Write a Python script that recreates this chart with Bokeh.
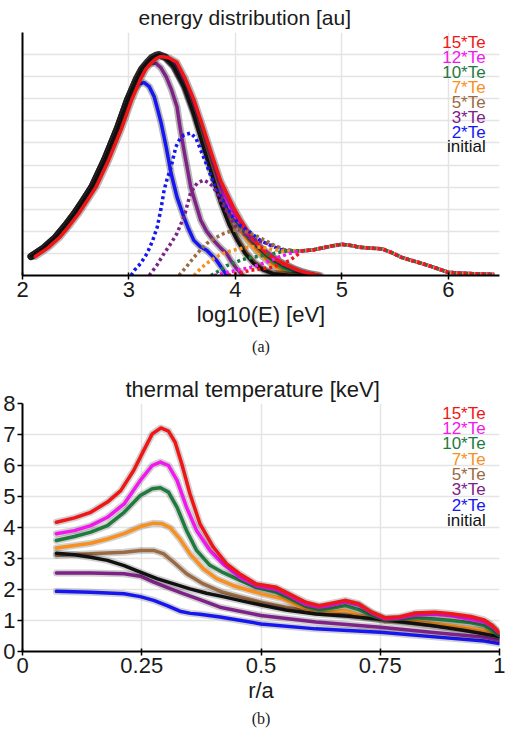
from bokeh.plotting import figure
from bokeh.layouts import column
from bokeh.models import Label, FixedTicker, Range1d, LinearAxis
from bokeh.embed import file_html
from bokeh.resources import INLINE

SANS = "Liberation Sans"
SERIF = "Liberation Serif"

SERIES = ["15*Te", "12*Te", "10*Te", "7*Te", "5*Te", "3*Te", "2*Te", "initial"]
COLORS = ["#f01616", "#f416ee", "#1f7a3e", "#f7901e", "#9a6a42", "#7e2288", "#1616f2", "#111111"]

# ---------------- panel (a): energy distribution ----------------
E_TICKS = [2, 3, 4, 5, 6]
RISE_X = [2.08, 2.2, 2.31, 2.4, 2.49, 2.57, 2.65, 2.77, 2.89, 2.99, 3.07, 3.12, 3.17, 3.21, 3.25, 3.28]
RISE_Y = [0.086, 0.125, 0.173, 0.225, 0.282, 0.34, 0.40, 0.523, 0.665, 0.80, 0.89, 0.935, 0.965, 0.985, 0.996, 1.0]

init_x = RISE_X + [3.34, 3.42, 3.52, 3.61, 3.67, 3.77, 3.86, 3.94, 4.01, 4.09, 4.17, 4.26, 4.35, 4.5, 4.72]
init_y = RISE_Y + [0.985, 0.945, 0.85, 0.727, 0.627, 0.47, 0.33, 0.23, 0.165, 0.10, 0.055, 0.025, 0.008, 0.001, 0.0]

te15_x = [2.12, 2.24, 2.35, 2.44, 2.53, 2.61, 2.69, 2.81, 2.93, 3.03, 3.11, 3.16, 3.21, 3.25, 3.29, 3.32, 3.38,
          3.45, 3.53, 3.61, 3.69, 3.77, 3.86, 3.92, 3.98, 4.05, 4.14, 4.22, 4.29, 4.37, 4.45, 4.53, 4.6, 4.68, 4.8]
te15_y = [0.086, 0.125, 0.173, 0.225, 0.282, 0.34, 0.40, 0.523, 0.665, 0.80, 0.89, 0.935, 0.962, 0.98, 0.99, 0.99,
          0.985, 0.965, 0.89, 0.795, 0.68, 0.56, 0.43, 0.37, 0.31, 0.25, 0.18, 0.135, 0.10, 0.075, 0.055, 0.037,
          0.022, 0.01, 0.0]

te12_x = RISE_X + [3.34, 3.42, 3.52, 3.61, 3.69, 3.77, 3.86, 3.98, 4.07, 4.14, 4.23, 4.31, 4.38, 4.46, 4.54, 4.62, 4.7, 4.78]
te12_y = RISE_Y + [0.99, 0.955, 0.87, 0.76, 0.64, 0.52, 0.39, 0.28, 0.22, 0.17, 0.13, 0.10, 0.075, 0.05, 0.032, 0.018, 0.007, 0.0]

te10_x = RISE_X + [3.34, 3.42, 3.52, 3.61, 3.69, 3.77, 3.86, 3.98, 4.06, 4.14, 4.22, 4.29, 4.37, 4.45, 4.54, 4.63, 4.72]
te10_y = RISE_Y + [0.99, 0.95, 0.865, 0.75, 0.63, 0.5, 0.37, 0.27, 0.21, 0.165, 0.125, 0.09, 0.06, 0.035, 0.018, 0.007, 0.0]

te7_x = RISE_X + [3.34, 3.42, 3.52, 3.61, 3.69, 3.77, 3.82, 3.88, 3.95, 4.05, 4.13, 4.2, 4.27, 4.33, 4.4, 4.47, 4.6]
te7_y = RISE_Y + [0.99, 0.95, 0.86, 0.745, 0.62, 0.5, 0.43, 0.35, 0.28, 0.2, 0.15, 0.11, 0.08, 0.055, 0.03, 0.012, 0.0]

te5_x = RISE_X + [3.34, 3.42, 3.52, 3.61, 3.68, 3.78, 3.87, 3.95, 4.02, 4.1, 4.18, 4.27, 4.36, 4.5, 4.7]
te5_y = RISE_Y + [0.985, 0.945, 0.855, 0.735, 0.635, 0.48, 0.34, 0.24, 0.17, 0.105, 0.06, 0.028, 0.01, 0.002, 0.0]

te3_x = RISE_X[:12] + [3.17, 3.21, 3.256, 3.30, 3.349, 3.40, 3.451, 3.48, 3.516, 3.55, 3.58, 3.63, 3.674, 3.73,
                       3.795, 3.86, 3.916, 3.96, 4.01, 4.07]
te3_y = RISE_Y[:12] + [0.955, 0.962, 0.96, 0.94, 0.9, 0.84, 0.764, 0.67, 0.568, 0.48, 0.4, 0.32, 0.25, 0.2,
                       0.159, 0.125, 0.1, 0.065, 0.032, 0.0]

te2_x = RISE_X[:10] + [3.05, 3.1, 3.144, 3.19, 3.237, 3.27, 3.302, 3.349, 3.395, 3.451, 3.516, 3.56, 3.609, 3.67,
                       3.73, 3.78, 3.823, 3.87, 3.907, 3.93]
te2_y = RISE_Y[:10] + [0.845, 0.868, 0.873, 0.855, 0.809, 0.75, 0.691, 0.582, 0.464, 0.355, 0.264, 0.21, 0.159, 0.13,
                       0.114, 0.09, 0.068, 0.035, 0.009, 0.0]

# dotted (fast-electron) parts, all ending in a common high energy tail
TAIL_X = [4.63, 4.72, 4.79, 4.9, 5.0, 5.1, 5.16, 5.25, 5.38, 5.47, 5.56, 5.64, 5.72, 5.8, 5.87, 5.94, 6.0, 6.1, 6.19, 6.3, 6.43]
TAIL_Y = [0.112, 0.115, 0.122, 0.133, 0.141, 0.135, 0.128, 0.125, 0.12, 0.103, 0.082, 0.07, 0.059, 0.047, 0.036,
          0.024, 0.014, 0.011, 0.009, 0.007, 0.005]

d2_x = [3.02, 3.05, 3.11, 3.17, 3.22, 3.265, 3.30, 3.33, 3.36, 3.395, 3.44, 3.48, 3.516, 3.58, 3.63, 3.674, 3.73,
        3.795, 3.86, 3.916, 3.98, 4.05, 4.14, 4.23, 4.29, 4.37, 4.45, 4.54]
d2_y = [0.0, 0.023, 0.055, 0.1, 0.155, 0.218, 0.3, 0.386, 0.44, 0.49, 0.582, 0.62, 0.636, 0.645, 0.62, 0.568, 0.5,
        0.418, 0.36, 0.309, 0.26, 0.225, 0.195, 0.16, 0.145, 0.128, 0.114, 0.11]
d3_x = [3.19, 3.26, 3.33, 3.40, 3.45, 3.52, 3.58, 3.64, 3.70, 3.75, 3.795, 3.86, 3.93, 4.01, 4.09, 4.17, 4.25, 4.33, 4.45, 4.54]
d3_y = [0.0, 0.045, 0.1, 0.15, 0.19, 0.27, 0.377, 0.418, 0.432, 0.42, 0.4, 0.34, 0.28, 0.218, 0.185, 0.165, 0.152,
        0.14, 0.118, 0.112]
d5_x = [3.47, 3.54, 3.61, 3.67, 3.73, 3.81, 3.89, 3.98, 4.05, 4.12, 4.2, 4.28, 4.36, 4.45, 4.54]
d5_y = [0.0, 0.04, 0.082, 0.115, 0.145, 0.17, 0.19, 0.205, 0.205, 0.195, 0.178, 0.159, 0.138, 0.118, 0.112]
d7_x = [3.61, 3.67, 3.73, 3.8, 3.86, 3.93, 4.01, 4.09, 4.17, 4.26, 4.35, 4.45, 4.54]
d7_y = [0.0, 0.03, 0.055, 0.078, 0.095, 0.108, 0.118, 0.126, 0.13, 0.127, 0.118, 0.11, 0.112]
d10_x = [3.77, 3.85, 3.92, 4.0, 4.07, 4.17, 4.26, 4.36, 4.45, 4.54]
d10_y = [0.0, 0.022, 0.045, 0.06, 0.073, 0.083, 0.091, 0.1, 0.109, 0.112]
d12_x = [3.8, 3.86, 3.92, 4.03, 4.14, 4.23, 4.33, 4.43, 4.54]
d12_y = [0.0, 0.006, 0.014, 0.025, 0.036, 0.05, 0.068, 0.088, 0.105]
d15_x = [3.93, 4.03, 4.14, 4.24, 4.33, 4.42, 4.51, 4.57]
d15_y = [0.0, 0.01, 0.023, 0.03, 0.036, 0.05, 0.068, 0.09]

# ---------------- panel (b): thermal temperature ----------------
R_TICKS = [0, 0.25, 0.5, 0.75, 1]
R_LABELS = ["0", "0.25", "0.5", "0.75", "1"]
T_TICKS = [0, 1, 2, 3, 4, 5, 6, 7, 8]

r15 = [0.071, 0.109, 0.143, 0.178, 0.206, 0.233, 0.254, 0.272, 0.29, 0.306, 0.32, 0.334, 0.351, 0.372, 0.4, 0.428,
       0.455, 0.49, 0.532, 0.559, 0.594, 0.622, 0.649, 0.677, 0.705, 0.732, 0.76, 0.788, 0.823, 0.864, 0.899, 0.94,
       0.968, 0.985, 0.999]
t15 = [4.17, 4.31, 4.49, 4.82, 5.19, 5.84, 6.48, 7.02, 7.21, 7.11, 6.75, 6.05, 5.09, 4.12, 3.37, 2.83, 2.51, 2.18,
       2.07, 1.86, 1.59, 1.48, 1.56, 1.65, 1.54, 1.27, 1.09, 1.11, 1.24, 1.27, 1.22, 1.13, 1.02, 0.84, 0.62]
r12 = [0.071, 0.109, 0.143, 0.178, 0.213, 0.247, 0.272, 0.289, 0.306, 0.324, 0.344, 0.365, 0.393, 0.42, 0.455, 0.49,
       0.532, 0.559, 0.594, 0.622, 0.649, 0.677, 0.705, 0.732, 0.76, 0.788, 0.823, 0.864, 0.899, 0.94, 0.968, 0.985, 0.999]
t12 = [3.8, 3.9, 4.06, 4.33, 4.76, 5.52, 6.0, 6.11, 6.0, 5.52, 4.65, 3.9, 3.26, 2.83, 2.4, 2.12, 2.0, 1.8, 1.52,
       1.43, 1.5, 1.6, 1.5, 1.24, 1.05, 1.07, 1.18, 1.2, 1.15, 1.03, 0.95, 0.8, 0.6]
r10 = [0.071, 0.109, 0.143, 0.178, 0.213, 0.247, 0.272, 0.289, 0.306, 0.324, 0.344, 0.365, 0.393, 0.42, 0.455, 0.49,
       0.532, 0.559, 0.594, 0.622, 0.649, 0.677, 0.705, 0.732, 0.76, 0.788, 0.823, 0.864, 0.899, 0.94, 0.968, 0.999]
t10 = [3.58, 3.71, 3.85, 4.06, 4.49, 5.03, 5.25, 5.28, 5.14, 4.65, 3.9, 3.26, 2.78, 2.55, 2.3, 2.07, 1.91, 1.72,
       1.45, 1.34, 1.4, 1.48, 1.35, 1.16, 1.02, 1.04, 1.09, 1.05, 1.0, 0.93, 0.84, 0.52]
r7 = [0.071, 0.109, 0.143, 0.178, 0.213, 0.247, 0.275, 0.293, 0.31, 0.33, 0.351, 0.379, 0.407, 0.441, 0.5, 0.545,
      0.594, 0.636, 0.677, 0.719, 0.76, 0.823, 0.899, 0.968, 0.999]
t7 = [3.34, 3.42, 3.49, 3.63, 3.8, 4.03, 4.14, 4.12, 3.99, 3.63, 3.15, 2.67, 2.35, 2.13, 1.86, 1.7, 1.37, 1.27, 1.32,
      1.11, 1.0, 0.98, 0.84, 0.68, 0.52]
r5 = [0.071, 0.143, 0.213, 0.247, 0.275, 0.296, 0.317, 0.344, 0.379, 0.42, 0.455, 0.5, 0.552, 0.615, 0.684, 0.76,
      0.857, 0.968, 0.999]
t5 = [3.1, 3.15, 3.2, 3.26, 3.26, 3.15, 2.88, 2.51, 2.18, 1.91, 1.77, 1.59, 1.43, 1.27, 1.16, 1.0, 0.84, 0.66, 0.48]
r3 = [0.071, 0.143, 0.213, 0.247, 0.275, 0.303, 0.33, 0.372, 0.414, 0.5, 0.615, 0.75, 0.857, 0.968, 0.999]
t3 = [2.53, 2.53, 2.51, 2.43, 2.24, 2.07, 1.91, 1.67, 1.43, 1.16, 0.95, 0.78, 0.62, 0.46, 0.36]
r2 = [0.071, 0.143, 0.213, 0.247, 0.275, 0.303, 0.33, 0.352, 0.372, 0.414, 0.5, 0.615, 0.75, 0.857, 0.968, 0.999]
t2 = [1.94, 1.91, 1.86, 1.77, 1.65, 1.48, 1.3, 1.23, 1.2, 1.11, 0.89, 0.73, 0.62, 0.48, 0.34, 0.26]
r0 = [0.071, 0.109, 0.143, 0.178, 0.213, 0.247, 0.282, 0.317, 0.351, 0.386, 0.42, 0.455, 0.5, 0.552, 0.615, 0.684,
      0.76, 0.857, 0.927, 0.999]
t0 = [3.17, 3.12, 3.04, 2.94, 2.77, 2.56, 2.35, 2.18, 2.02, 1.88, 1.77, 1.65, 1.5, 1.34, 1.21, 1.14, 1.02, 0.84,
      0.68, 0.48]

GRID = "#e4e4e4"
TXT = "#1a1a1a"


def style(p, xt, yt, xlabel, title_size, title_standoff):
    p.outline_line_color = None
    p.background_fill_color = "white"
    p.border_fill_color = "white"
    p.title.text_font = SANS
    p.title.text_font_size = title_size
    p.title.text_font_style = "normal"
    p.title.text_color = TXT
    p.title.align = "left"
    p.title.standoff = title_standoff
    for ax in (p.xaxis[0], p.yaxis[0]):
        ax.axis_line_width = 2
        ax.axis_line_color = "black"
        ax.major_tick_line_width = 1.5
        ax.major_tick_line_color = "black"
        ax.minor_tick_line_color = None
        ax.major_label_text_font = SANS
        ax.major_label_text_font_size = "22px"
        ax.major_label_text_color = TXT
        ax.axis_label_text_font = SANS
        ax.axis_label_text_font_size = "22px"
        ax.axis_label_text_font_style = "normal"
        ax.axis_label_text_color = TXT
    p.xaxis[0].ticker = FixedTicker(ticks=xt)
    p.xaxis[0].axis_label = xlabel
    p.xaxis[0].major_tick_in = 3
    p.xaxis[0].major_tick_out = 4
    p.xaxis[0].major_label_standoff = 2
    p.xaxis[0].axis_label_standoff = 2
    p.xgrid.ticker = FixedTicker(ticks=xt)
    p.ygrid.ticker = FixedTicker(ticks=yt)
    for g in (p.xgrid, p.ygrid):
        g.grid_line_color = GRID
        g.grid_line_width = 1.5


def add_caption(p, text, standoff):
    # sub-figure caption drawn as the label of a bare extra axis below the x axis
    cap = LinearAxis(ticker=FixedTicker(ticks=[]), axis_label=text, axis_line_color=None,
                     major_tick_line_color=None, minor_tick_line_color=None, major_tick_out=0,
                     major_tick_in=0, major_label_standoff=0, major_label_text_font_size="0px",
                     axis_label_standoff=standoff, axis_label_text_font=SERIF,
                     axis_label_text_font_size="16px", axis_label_text_font_style="normal",
                     axis_label_text_color=TXT)
    p.add_layout(cap, "below")


def shadow_line(p, x, y, color, w=3.5, alpha=0.28):
    p.line(x, y, line_color="black", line_alpha=alpha, line_width=w + 3.5, line_join="round", line_cap="round")
    p.line(x, y, line_color=color, line_width=w, line_join="round", line_cap="round")


# ---- figure (a)
pa = figure(width=505, height=373, x_range=Range1d(2, 6.48), y_range=Range1d(0, 1.1),
            output_backend="svg", toolbar_location=None, title="energy distribution [au]",
            min_border_left=17, min_border_right=6, min_border_top=0, min_border_bottom=98)
style(pa, E_TICKS, [0.1 * i for i in range(1, 12)], "log10(E) [eV]", "21px", 7)
pa.title.offset = 116
pa.yaxis[0].ticker = FixedTicker(ticks=[])
pa.yaxis[0].major_label_text_font_size = "0px"
pa.yaxis[0].major_tick_out = 0
pa.yaxis[0].major_label_standoff = 0

solid_a = [(te2_x, te2_y, 6), (te3_x, te3_y, 5), (te7_x, te7_y, 3), (te10_x, te10_y, 2), (te12_x, te12_y, 1),
           (te5_x, te5_y, 4), (init_x, init_y, 7), (te15_x, te15_y, 0)]
for x, y, ci in solid_a:
    shadow_line(pa, x, y, COLORS[ci])

dotted_a = [(d2_x, d2_y, 6), (d3_x, d3_y, 5), (d5_x, d5_y, 4), (d7_x, d7_y, 3), (d10_x, d10_y, 2),
            (d12_x, d12_y, 1), (d15_x, d15_y, 0)]
for x, y, ci in dotted_a:
    pa.line(x + TAIL_X, y + TAIL_Y, line_color=COLORS[ci], line_width=3.5, line_dash="3 3", line_cap="butt")

for i, (name, col) in enumerate(zip(SERIES, COLORS)):
    pa.add_layout(Label(x=6.35, y=1.055 - 0.0676 * i, text=name, text_color=col, text_font=SANS,
                        text_font_size="17px", text_align="right", text_baseline="middle"))

add_caption(pa, "(a)", 8)

# ---- figure (b)
pb = figure(width=505, height=357, x_range=Range1d(0, 1), y_range=Range1d(0, 8),
            output_backend="svg", toolbar_location=None, title="thermal temperature [keV]",
            min_border_left=21, min_border_right=3, min_border_top=0, min_border_bottom=79)
style(pb, R_TICKS, T_TICKS, "r/a", "22px", 3)
pb.title.offset = 103
pb.yaxis[0].ticker = FixedTicker(ticks=T_TICKS)
pb.yaxis[0].major_tick_in = 0
pb.yaxis[0].major_tick_out = 5
pb.yaxis[0].major_label_standoff = 2
pb.xaxis[0].major_label_overrides = {t: s for t, s in zip(R_TICKS, R_LABELS)}

lines_b = [(r2, t2, 6), (r3, t3, 5), (r5, t5, 4), (r7, t7, 3), (r0, t0, 7), (r10, t10, 2), (r12, t12, 1),
           (r15, t15, 0)]
for x, y, ci in lines_b:
    shadow_line(pb, x, y, COLORS[ci], alpha=0.18)

for i, (name, col) in enumerate(zip(SERIES, COLORS)):
    pb.add_layout(Label(x=0.971, y=7.68 - 0.493 * i, text=name, text_color=col, text_font=SANS,
                        text_font_size="17px", text_align="right", text_baseline="middle"))

add_caption(pb, "(b)", 4)

layout = column(pa, pb, spacing=0)
open("out.html", "w").write(file_html(layout, INLINE))
